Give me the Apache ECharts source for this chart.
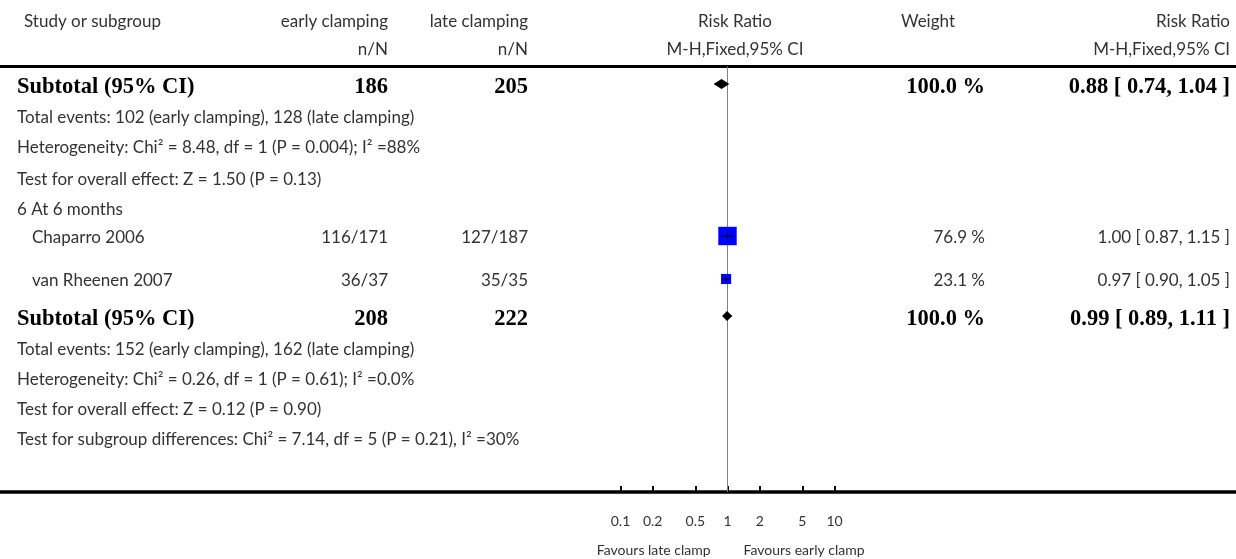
<!DOCTYPE html>
<html><head><meta charset="utf-8">
<script src="https://cdn.jsdelivr.net/npm/echarts@6/dist/echarts.min.js"></script>
<style>html,body{margin:0;padding:0;background:#fff}#c{width:1236px;height:559px}</style>
</head><body><div id="c"></div>
<script>
// ---------- DATA ----------
const headerRow1 = ['Study or subgroup', 'early clamping', 'late clamping', 'Risk Ratio', 'Weight', 'Risk Ratio'];
const headerRow2 = ['', 'n/N', 'n/N', 'M-H,Fixed,95% CI', '', 'M-H,Fixed,95% CI'];

const studyNames  = ['Chaparro 2006', 'van Rheenen 2007'];
const studyEarly  = ['116/171', '36/37'];
const studyLate   = ['127/187', '35/35'];
const studyRR     = [1.00, 0.97];
const studyLow    = [0.87, 0.90];
const studyHigh   = [1.15, 1.05];
const studyWeight = [76.9, 23.1];

const subtotalLabel  = 'Subtotal (95% CI)';
const subtotalEarly  = [186, 208];
const subtotalLate   = [205, 222];
const subtotalRR     = [0.88, 0.99];
const subtotalLow    = [0.74, 0.89];
const subtotalHigh   = [1.04, 1.11];
const subtotalWeight = [100.0, 100.0];

const notesA = [
  'Total events: 102 (early clamping), 128 (late clamping)',
  'Heterogeneity: Chi\u00B2 = 8.48, df = 1 (P = 0.004); I\u00B2 =88%',
  'Test for overall effect: Z = 1.50 (P = 0.13)'
];
const subgroupLabel = '6 At 6 months';
const notesB = [
  'Total events: 152 (early clamping), 162 (late clamping)',
  'Heterogeneity: Chi\u00B2 = 0.26, df = 1 (P = 0.61); I\u00B2 =0.0%',
  'Test for overall effect: Z = 0.12 (P = 0.90)',
  'Test for subgroup differences: Chi\u00B2 = 7.14, df = 5 (P = 0.21), I\u00B2 =30%'
];
const tickValues = [0.1, 0.2, 0.5, 1, 2, 5, 10];
const tickLabels = ['0.1', '0.2', '0.5', '1', '2', '5', '10'];
const favourLabels = ['Favours late clamp', 'Favours early clamp'];
const nullValue = 1;

// ---------- LAYOUT ----------
const W = 1236, H = 559;
const TOP_LINE = 66.5, AXIS_Y = 492;
const headerY = [19.5, 47.5];
const rowY = [86, 116, 146, 178, 208, 236, 279, 318, 348, 378, 408, 438];
const REG_DY = 2, BOLD_DY = 1.5;
const colX = { name: 17, nameIndent: 32, hdrName: 24, early: 388, late: 528, rr: 735, wHdr: 955, w: 985, ci: 1230 };
const REG = '17px Lato', BOLD = 'bold 22.5px "Liberation Serif"';
const REG_COL = '#333', BOLD_COL = '#000';

// rows
const rows = [];
rows.push({ kind: 'subtotal', i: 0 });
notesA.forEach(t => rows.push({ kind: 'note', text: t }));
rows.push({ kind: 'group', text: subgroupLabel });
studyNames.forEach((n, i) => rows.push({ kind: 'study', i }));
rows.push({ kind: 'subtotal', i: 1 });
notesB.forEach(t => rows.push({ kind: 'note', text: t }));

const fmt2 = v => v.toFixed(2);
const fmtW = v => v.toFixed(1) + ' %';
const fmtCI = (e, l, h) => fmt2(e) + ' [ ' + fmt2(l) + ', ' + fmt2(h) + ' ]';

const studyData = studyRR.map((v, i) => [v, rowY[rows.findIndex(r => r.kind === 'study' && r.i === i)], studyLow[i], studyHigh[i], studyWeight[i]]);
const subtotalData = subtotalRR.map((v, i) => [v, rowY[rows.findIndex(r => r.kind === 'subtotal' && r.i === i)] - 2, subtotalLow[i], subtotalHigh[i]]);

const chart = echarts.init(document.getElementById('c'), null, { renderer: 'canvas' });

const option = {
  animation: false,
  backgroundColor: '#fff',
  grid: { left: 620.5, right: W - 834.5, top: TOP_LINE, bottom: H - AXIS_Y, containLabel: false },
  xAxis: {
    type: 'log', logBase: 10, min: 0.1, max: 10,
    axisLine: { show: false },
    splitLine: { show: false },
    axisTick: { show: true, inside: true, length: 6, customValues: tickValues, lineStyle: { color: '#000', width: 2 } },
    axisLabel: { customValues: tickValues, margin: 22, color: REG_COL, fontFamily: 'Lato', fontSize: 14,
      formatter: v => { const k = tickValues.findIndex(t => Math.abs(t - v) < 1e-9); return k >= 0 ? tickLabels[k] : ''; } }
  },
  yAxis: { type: 'value', min: TOP_LINE, max: AXIS_Y, inverse: true, show: false },
  series: [
    {
      type: 'line', data: [[nullValue, TOP_LINE], [nullValue, AXIS_Y]], symbol: 'none',
      lineStyle: { color: '#808080', width: 1 }, silent: true, z: 1
    },
    {
      type: 'custom', data: studyData, z: 3,
      renderItem: (params, api) => {
        const c = api.coord([api.value(0), api.value(1)]);
        const lo = api.coord([api.value(2), api.value(1)]);
        const hi = api.coord([api.value(3), api.value(1)]);
        const s = 2.1 * Math.sqrt(api.value(4));
        return { type: 'group', children: [
          { type: 'rect', shape: { x: c[0] - s / 2, y: c[1] - s / 2, width: s, height: s }, style: { fill: '#0000ff' } },
          { type: 'line', shape: { x1: lo[0], y1: c[1], x2: hi[0], y2: c[1] }, style: { stroke: '#000', lineWidth: 1 } },
          { type: 'line', shape: { x1: c[0], y1: c[1] - 2.5, x2: c[0], y2: c[1] + 2.5 }, style: { stroke: '#000', lineWidth: 1 } }
        ] };
      }
    },
    {
      type: 'custom', data: subtotalData, z: 3,
      renderItem: (params, api) => {
        const c = api.coord([api.value(0), api.value(1)]);
        const lo = api.coord([api.value(2), api.value(1)]);
        const hi = api.coord([api.value(3), api.value(1)]);
        const h = 5;
        return { type: 'polygon', shape: { points: [[lo[0], c[1]], [c[0], c[1] - h], [hi[0], c[1]], [c[0], c[1] + h]] }, style: { fill: '#000' } };
      }
    }
  ]
};
chart.setOption(option);

// ---------- TABLE TEXT ----------
const g = [];
function txt(text, x, y, align, font, fill) {
  g.push({ type: 'text', silent: true, z: 10, style: { text: String(text), x, y, textAlign: align, textVerticalAlign: 'middle', font: font, fill: fill } });
}
const reg = (t, x, y, a) => txt(t, x, y + REG_DY, a, REG, REG_COL);
const bold = (t, x, y, a) => txt(t, x, y + BOLD_DY, a, BOLD, BOLD_COL);
// header
reg(headerRow1[0], colX.hdrName, headerY[0], 'left');
reg(headerRow1[1], colX.early, headerY[0], 'right');
reg(headerRow1[2], colX.late, headerY[0], 'right');
reg(headerRow1[3], colX.rr, headerY[0], 'center');
reg(headerRow1[4], colX.wHdr, headerY[0], 'right');
reg(headerRow1[5], colX.ci, headerY[0], 'right');
reg(headerRow2[1], colX.early, headerY[1], 'right');
reg(headerRow2[2], colX.late, headerY[1], 'right');
reg(headerRow2[3], colX.rr, headerY[1], 'center');
reg(headerRow2[5], colX.ci, headerY[1], 'right');

rows.forEach((r, k) => {
  const y = rowY[k];
  if (r.kind === 'subtotal') {
    bold(subtotalLabel, colX.name, y, 'left');
    bold(subtotalEarly[r.i], colX.early, y, 'right');
    bold(subtotalLate[r.i], colX.late, y, 'right');
    bold(fmtW(subtotalWeight[r.i]), colX.w, y, 'right');
    bold(fmtCI(subtotalRR[r.i], subtotalLow[r.i], subtotalHigh[r.i]), colX.ci, y, 'right');
  } else if (r.kind === 'study') {
    reg(studyNames[r.i], colX.nameIndent, y, 'left');
    reg(studyEarly[r.i], colX.early, y, 'right');
    reg(studyLate[r.i], colX.late, y, 'right');
    reg(fmtW(studyWeight[r.i]), colX.w, y, 'right');
    reg(fmtCI(studyRR[r.i], studyLow[r.i], studyHigh[r.i]), colX.ci, y, 'right');
  } else {
    reg(r.text, colX.name, y, 'left');
  }
});

// rules
g.push({ type: 'line', silent: true, shape: { x1: 0, y1: TOP_LINE, x2: W, y2: TOP_LINE }, style: { stroke: '#000', lineWidth: 3 } });
g.push({ type: 'line', silent: true, shape: { x1: 0, y1: AXIS_Y, x2: W, y2: AXIS_Y }, style: { stroke: '#000', lineWidth: 3.5 } });

// favours labels
const x1 = chart.convertToPixel({ xAxisIndex: 0 }, nullValue);
txt(favourLabels[0], x1 - 17, 550, 'right', '14px Lato', REG_COL);
txt(favourLabels[1], x1 + 16, 550, 'left', '14px Lato', REG_COL);

chart.setOption({ graphic: { elements: g } });
</script></body></html>
